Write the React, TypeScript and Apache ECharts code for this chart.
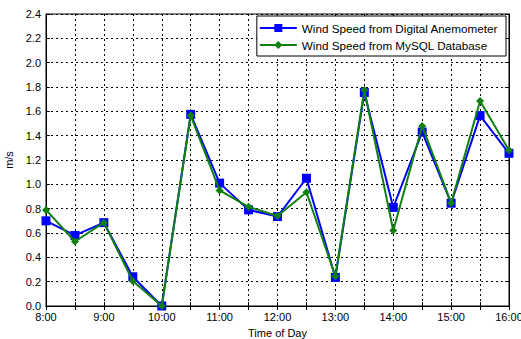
import React, { useEffect, useRef } from "react";
import * as echarts from "echarts";

const times = ["8:00","8:30","9:00","9:30","10:00","10:30","11:00","11:30","12:00","12:30","13:00","13:30","14:00","14:30","15:00","15:30","16:00"];
const anemometer = [0.70,0.58,0.685,0.24,0.0,1.575,1.01,0.79,0.735,1.05,0.235,1.755,0.81,1.43,0.845,1.565,1.255];
const mysql = [0.79,0.53,0.685,0.205,0.0,1.565,0.95,0.815,0.74,0.935,0.245,1.775,0.62,1.48,0.845,1.685,1.28];
const yTicks = { min: 0, max: 2.4, interval: 0.2 };

export default function App() {
  const ref = useRef<HTMLDivElement>(null);
  useEffect(() => {
    document.body.style.margin = "0";
    const chart = echarts.init(ref.current!, null, { renderer: "svg" });
    const font = "Liberation Sans, Arial, sans-serif";
    const gridLine = { show: true, lineStyle: { color: "#000", type: [2, 3] as any, width: 1 } };
    chart.setOption({
      animation: false,
      backgroundColor: "#fff",
      textStyle: { fontFamily: font },
      grid: { left: 46, right: 12, top: 14, bottom: 33, outerBoundsMode: "none", containLabel: false, show: true, borderColor: "#000", borderWidth: 1, backgroundColor: "#fff" },
      legend: {
        orient: "vertical",
        right: 15,
        top: 16,
        backgroundColor: "#fff",
        borderColor: "#000",
        borderWidth: 1,
        borderRadius: 0,
        padding: [6, 8, 5, 2],
        itemWidth: 37,
        itemHeight: 10,
        itemGap: 5,
        textStyle: { fontSize: 11.7, color: "#000", fontFamily: font },
        data: ["Wind Speed from Digital Anemometer", "Wind Speed from MySQL Database"],
      },
      xAxis: [
        {
          type: "category",
          data: times,
          boundaryGap: false,
          name: "Time of Day",
          nameLocation: "middle",
          nameGap: 21,
          nameTextStyle: { fontSize: 11, color: "#000" },
          axisLine: { lineStyle: { color: "#000" } },
          axisTick: { inside: true, length: 4, interval: 0, lineStyle: { color: "#000" } },
          axisLabel: { interval: 1, fontSize: 11, color: "#000", margin: 5 },
          splitLine: { ...gridLine, interval: 0 },
        },
        {
          type: "category",
          data: times,
          boundaryGap: false,
          position: "top",
          axisLine: { lineStyle: { color: "#000" } },
          axisTick: { inside: true, length: 4, interval: 0, lineStyle: { color: "#000" } },
          axisLabel: { show: false },
          splitLine: { show: false },
        },
      ],
      yAxis: [
        {
          type: "value",
          ...yTicks,
          name: "m/s",
          nameLocation: "middle",
          nameGap: 28,
          nameTextStyle: { fontSize: 11, color: "#000" },
          axisLine: { show: true, lineStyle: { color: "#000" } },
          axisTick: { show: true, inside: true, length: 4, lineStyle: { color: "#000" } },
          axisLabel: { fontSize: 11, color: "#000", margin: 5, formatter: (v: number) => v.toFixed(1) },
          splitLine: gridLine,
        },
        {
          type: "value",
          ...yTicks,
          position: "right",
          axisLine: { show: true, lineStyle: { color: "#000" } },
          axisTick: { show: true, inside: true, length: 4, lineStyle: { color: "#000" } },
          axisLabel: { show: false },
          splitLine: { show: false },
        },
      ],
      series: [
        {
          name: "Wind Speed from Digital Anemometer",
          type: "line",
          data: anemometer,
          symbol: "rect",
          symbolSize: 9,
          lineStyle: { color: "#0000ff", width: 2 },
          itemStyle: { color: "#0000ff" },
          z: 2,
        },
        {
          name: "Wind Speed from MySQL Database",
          type: "line",
          data: mysql,
          symbol: "diamond",
          symbolSize: 8,
          lineStyle: { color: "#118011", width: 2 },
          itemStyle: { color: "#118011" },
          z: 3,
        },
      ],
    });
    return () => chart.dispose();
  }, []);
  return <div ref={ref} style={{ width: 521, height: 339 }} />;
}
